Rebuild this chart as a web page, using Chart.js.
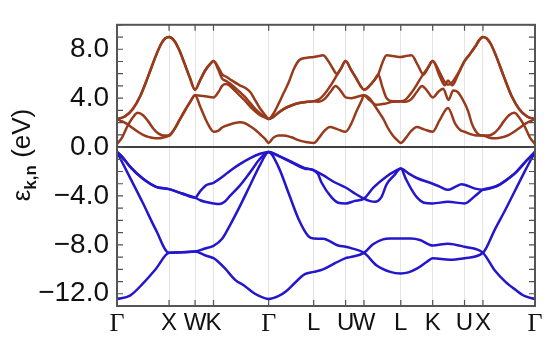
<!DOCTYPE html>
<html>
<head>
<meta charset="utf-8">
<script src="https://cdn.jsdelivr.net/npm/chart.js@4.4.0/dist/chart.umd.min.js"></script>
<style>
html, body { margin: 0; padding: 0; background: #fff; }
</style>
</head>
<body>
<canvas id="bandas" width="550" height="339"></canvas>
<script>
// high symmetry points along the path (units of 2pi/a)
const k_points = [0, 1, 1.5, 1.854, 2.914, 3.780, 4.393, 4.746, 5.453, 6.066, 6.678, 7.032, 8.032];
const k_labels = ['Γ', 'X', 'W', 'K', 'Γ', 'L', 'U', 'W', 'L', 'K', 'U', 'X', 'Γ'];
const e_ticks = [-12, -8, -4, 0, 4, 8];

// valence bands [k, E]
const vb1 = [[0,-12.42],[0.25,-12.15],[0.5,-11.15],[0.75,-9.95],[1.0,-8.65],[1.25,-8.6],[1.5,-8.55],[1.69,-8.85],[1.854,-9.09],[1.95,-9.4],[2.08,-9.95],[2.27,-10.86],[2.46,-11.38],[2.6,-11.85],[2.72,-12.16],[2.914,-12.42],[3.1,-12.2],[3.25,-11.8],[3.42,-11.1],[3.61,-10.4],[3.78,-10.21],[3.96,-10.0],[4.19,-9.5],[4.393,-9.09],[4.48,-9.0],[4.746,-8.65],[4.92,-7.95],[5.11,-7.55],[5.25,-7.48],[5.453,-7.48],[5.65,-7.48],[5.82,-7.6],[6.066,-8.05],[6.36,-7.9],[6.678,-8.16],[7.032,-8.65],[7.26,-10.1],[7.46,-11.0],[7.65,-11.65],[7.84,-12.2],[8.032,-12.42]];
const vb2 = [[0,-0.4],[0.25,-2.5],[0.5,-4.6],[0.75,-6.8],[1.0,-8.65],[1.25,-8.6],[1.5,-8.55],[1.69,-8.3],[1.854,-8.08],[2.02,-7.5],[2.17,-6.4],[2.36,-4.85],[2.56,-3.1],[2.75,-1.45],[2.914,-0.4],[3.1,-1.6],[3.3,-3.8],[3.49,-5.9],[3.68,-7.3],[3.78,-7.48],[3.96,-7.5],[4.25,-8.05],[4.393,-8.16],[4.48,-8.25],[4.746,-8.65],[4.99,-9.69],[5.25,-10.21],[5.453,-10.34],[5.6,-10.25],[5.76,-9.95],[5.95,-9.4],[6.066,-9.09],[6.4,-9.22],[6.678,-9.09],[7.032,-8.65],[7.26,-6.75],[7.46,-5.15],[7.65,-3.55],[7.84,-1.95],[8.032,-0.4]];
const vb3 = [[0,-0.4],[0.1,-0.8],[0.25,-1.6],[0.5,-2.6],[0.75,-3.25],[1.0,-3.44],[1.25,-3.8],[1.5,-4.14],[1.6,-3.6],[1.72,-3.1],[1.854,-2.92],[2.02,-2.45],[2.17,-1.95],[2.36,-1.4],[2.56,-0.9],[2.75,-0.55],[2.914,-0.4],[3.1,-0.7],[3.35,-1.2],[3.6,-1.7],[3.78,-1.88],[3.96,-2.3],[4.19,-2.9],[4.393,-3.31],[4.57,-3.8],[4.746,-4.22],[4.85,-4.4],[4.96,-4.48],[5.08,-4.1],[5.18,-3.05],[5.33,-2.3],[5.453,-1.75],[5.6,-2.15],[5.76,-2.53],[6.066,-3.0],[6.21,-3.25],[6.36,-3.5],[6.5,-3.25],[6.62,-3.05],[6.678,-3.08],[6.88,-3.4],[7.032,-3.49],[7.26,-3.25],[7.36,-3.05],[7.56,-2.45],[7.68,-2.0],[7.87,-1.1],[8.032,-0.4]];
const vb4 = [[0,-0.4],[0.1,-0.8],[0.25,-1.6],[0.5,-2.6],[0.75,-3.25],[1.0,-3.44],[1.25,-3.8],[1.5,-4.14],[1.6,-4.35],[1.69,-4.48],[1.854,-4.61],[1.97,-4.66],[2.06,-4.5],[2.17,-4.0],[2.36,-3.15],[2.56,-2.05],[2.75,-0.95],[2.914,-0.4],[3.1,-0.72],[3.35,-1.25],[3.6,-1.75],[3.78,-1.9],[3.86,-2.2],[3.93,-2.9],[4.12,-4.1],[4.25,-4.55],[4.393,-4.61],[4.57,-4.4],[4.746,-4.22],[4.93,-3.3],[5.18,-2.4],[5.35,-1.95],[5.453,-1.75],[5.55,-2.6],[5.65,-3.4],[5.76,-4.1],[5.9,-4.55],[6.066,-4.61],[6.36,-4.48],[6.678,-4.61],[6.88,-4.0],[7.032,-3.49],[7.26,-3.25],[7.36,-3.05],[7.56,-2.45],[7.68,-2.0],[7.87,-1.1],[8.032,-0.4]];

// conduction bands [k, E]
const cb1 = [[0,0.26],[0.1,0.8],[0.2,1.7],[0.3,2.4],[0.4,2.81],[0.5,2.6],[0.6,2.1],[0.7,1.5],[0.8,1.1],[0.9,0.95],[1.0,0.94],[1.1,1.45],[1.2,2.2],[1.3,2.95],[1.4,3.65],[1.5,4.24],[1.6,3.3],[1.7,2.3],[1.8,1.5],[1.854,1.25],[1.95,1.35],[2.02,1.6],[2.17,1.85],[2.36,2.03],[2.46,1.95],[2.56,1.7],[2.66,1.4],[2.75,1.05],[2.85,0.65],[2.914,0.34],[3.0,0.75],[3.1,0.95],[3.2,0.95],[3.35,0.8],[3.5,0.55],[3.65,0.4],[3.78,0.33],[3.88,0.75],[3.98,1.3],[4.09,1.64],[4.24,1.45],[4.393,1.25],[4.5,1.9],[4.6,2.9],[4.7,3.8],[4.746,4.24],[4.85,4.0],[4.95,3.4],[5.05,2.75],[5.12,2.29],[5.2,1.6],[5.3,0.95],[5.4,0.5],[5.453,0.33],[5.55,0.75],[5.65,1.3],[5.76,1.64],[5.9,1.45],[6.066,1.25],[6.2,2.2],[6.36,3.2],[6.5,1.9],[6.6,1.38],[6.678,1.25],[6.8,1.05],[6.9,0.95],[7.032,0.94],[7.132,0.95],[7.232,1.1],[7.332,1.5],[7.432,2.1],[7.532,2.6],[7.632,2.81],[7.732,2.4],[7.832,1.7],[7.932,0.8],[8.032,0.26]];
const cb2 = [[0,2.29],[0.1,2.1],[0.2,1.88],[0.3,1.55],[0.4,1.25],[0.5,1.0],[0.6,0.83],[0.7,0.74],[0.8,0.72],[0.9,0.8],[1.0,0.94],[1.1,1.45],[1.2,2.2],[1.3,2.95],[1.4,3.65],[1.5,4.24],[1.6,4.2],[1.7,4.15],[1.854,4.06],[1.95,4.5],[2.02,5.0],[2.1,5.15],[2.17,5.0],[2.36,4.2],[2.46,3.8],[2.56,3.3],[2.66,2.9],[2.75,2.6],[2.85,2.4],[2.914,2.29],[3.0,2.45],[3.1,2.8],[3.2,3.1],[3.35,3.4],[3.5,3.6],[3.65,3.7],[3.78,3.75],[3.88,3.7],[3.98,3.9],[4.1,4.5],[4.2,5.0],[4.3,4.6],[4.393,4.06],[4.5,4.0],[4.6,4.1],[4.746,4.24],[4.85,3.85],[4.99,3.46],[5.15,3.55],[5.3,3.7],[5.453,3.72],[5.55,3.7],[5.65,3.9],[5.76,4.5],[5.86,5.0],[5.96,4.6],[6.066,4.06],[6.18,4.55],[6.27,4.77],[6.37,3.85],[6.46,4.63],[6.55,4.5],[6.678,3.6],[6.75,2.9],[6.82,1.9],[6.9,1.25],[6.96,1.0],[7.032,0.94],[7.132,0.8],[7.232,0.72],[7.332,0.74],[7.432,0.83],[7.532,1.0],[7.632,1.25],[7.732,1.55],[7.832,1.88],[7.932,2.1],[8.032,2.29]];
const cb3 = [[0,2.29],[0.15,2.5],[0.3,3.1],[0.45,4.2],[0.6,5.8],[0.75,7.5],[0.85,8.45],[0.93,8.9],[1.0,9.0],[1.1,8.7],[1.2,7.9],[1.3,6.8],[1.4,5.67],[1.5,4.69],[1.6,5.5],[1.7,6.3],[1.8,6.85],[1.854,7.03],[1.95,6.3],[2.02,5.6],[2.1,5.4],[2.17,5.2],[2.36,4.5],[2.46,4.1],[2.56,3.6],[2.66,3.1],[2.75,2.75],[2.85,2.45],[2.914,2.29],[3.0,2.45],[3.1,2.8],[3.2,3.1],[3.35,3.4],[3.5,3.6],[3.65,3.7],[3.78,3.75],[3.88,3.9],[3.98,4.3],[4.1,5.0],[4.2,5.7],[4.3,6.4],[4.393,7.03],[4.5,6.3],[4.6,5.6],[4.68,5.0],[4.746,4.69],[4.85,5.0],[4.95,5.5],[5.02,5.93],[5.1,6.9],[5.18,7.5],[5.3,7.45],[5.453,7.37],[5.55,7.45],[5.66,7.5],[5.78,6.7],[5.89,5.94],[5.98,6.5],[6.066,7.03],[6.2,6.1],[6.3,5.3],[6.36,5.1],[6.44,5.3],[6.55,6.0],[6.678,7.03],[6.78,7.6],[6.88,8.2],[6.96,8.75],[7.032,9.0],[7.1,8.9],[7.18,8.45],[7.28,7.5],[7.43,5.8],[7.58,4.2],[7.73,3.1],[7.88,2.5],[8.032,2.29]];
const cb4 = [[0,2.29],[0.15,2.5],[0.3,3.1],[0.45,4.2],[0.6,5.8],[0.75,7.5],[0.85,8.45],[0.93,8.9],[1.0,9.0],[1.1,8.7],[1.2,7.9],[1.3,6.8],[1.4,5.67],[1.5,4.69],[1.6,5.5],[1.7,6.3],[1.8,6.85],[1.854,7.03],[1.95,6.5],[2.02,5.95],[2.1,5.75],[2.17,5.55],[2.36,5.05],[2.46,4.85],[2.56,4.5],[2.66,3.8],[2.75,3.15],[2.85,2.6],[2.914,2.29],[3.0,2.7],[3.1,3.5],[3.2,4.4],[3.3,5.3],[3.4,6.4],[3.5,7.1],[3.65,7.3],[3.78,7.37],[3.88,7.45],[3.96,7.5],[4.05,7.1],[4.15,6.4],[4.22,6.0],[4.3,6.4],[4.393,7.03],[4.5,6.3],[4.6,5.6],[4.68,5.0],[4.746,4.69],[4.85,5.0],[4.95,5.5],[5.02,5.93],[5.1,4.9],[5.18,4.0],[5.3,3.75],[5.453,3.75],[5.55,3.9],[5.65,4.4],[5.76,5.1],[5.86,5.8],[5.96,6.4],[6.066,7.03],[6.2,5.8],[6.3,5.05],[6.36,5.45],[6.44,5.05],[6.55,5.9],[6.678,7.03],[6.78,7.6],[6.88,8.2],[6.96,8.75],[7.032,9.0],[7.1,8.9],[7.18,8.45],[7.28,7.5],[7.43,5.8],[7.58,4.2],[7.73,3.1],[7.88,2.5],[8.032,2.29]];

const valence = [vb1, vb2, vb3, vb4];
const conduction = [cb1, cb2, cb3, cb4];

function band(points, color) {
    return {
        data: points.map(p => ({x: p[0], y: p[1]})),
        borderColor: color,
        borderWidth: 2.5,
        showLine: true,
        pointRadius: 0,
        cubicInterpolationMode: 'monotone'
    };
}

const datasets = [];
conduction.forEach(b => datasets.push(band(b, '#983a1c')));
valence.forEach(b => datasets.push(band(b, '#2416cc')));

// frame, inward ticks, minor ticks
const frame_plugin = {
    id: 'frame',
    afterDatasetsDraw(chart) {
        const {ctx, chartArea: a, scales: {x, y}} = chart;
        ctx.save();
        ctx.strokeStyle = '#505050';
        ctx.lineWidth = 1.2;
        ctx.beginPath();
        for (let e = Math.ceil(y.min); e <= y.max; e++) {
            const py = y.getPixelForValue(e);
            ctx.moveTo(a.left, py); ctx.lineTo(a.left + 6, py);
            ctx.moveTo(a.right, py); ctx.lineTo(a.right - 6, py);
        }
        k_points.forEach(k => {
            const px = x.getPixelForValue(k);
            ctx.moveTo(px, a.top); ctx.lineTo(px, a.top + 6);
            ctx.moveTo(px, a.bottom); ctx.lineTo(px, a.bottom - 6);
        });
        ctx.stroke();
        ctx.lineWidth = 2;
        ctx.strokeStyle = '#555';
        ctx.strokeRect(a.left, a.top, a.right - a.left, a.bottom - a.top);
        ctx.restore();
    }
};

// y axis title with subscript
const ytitle_plugin = {
    id: 'ytitle',
    afterDraw(chart) {
        const ctx = chart.ctx;
        const big = '26px "Liberation Sans"';
        const small = 'bold 17px "Liberation Sans"';
        ctx.save();
        ctx.translate(23, 155);
        ctx.rotate(-Math.PI / 2);
        ctx.fillStyle = '#111';
        ctx.textBaseline = 'middle';
        ctx.font = big;
        const w1 = ctx.measureText('ε').width;
        const w3 = ctx.measureText(' (eV)').width;
        ctx.font = small;
        const w2 = ctx.measureText('k,n').width;
        const x0 = -(w1 + w2 + w3) / 2;
        ctx.font = big;
        ctx.fillText('ε', x0, 0);
        ctx.font = small;
        ctx.fillText('k,n', x0 + w1, 8);
        ctx.font = big;
        ctx.fillText(' (eV)', x0 + w1 + w2, 0);
        ctx.restore();
    }
};

const ctx_bandas = document.getElementById("bandas").getContext("2d");
const graf_bandas = new Chart(ctx_bandas, {
    type: 'scatter',
    data: { datasets: datasets },
    options: {
        responsive: false,
        animation: false,
        devicePixelRatio: 1,
        layout: { padding: { top: 12, right: 15, left: 0, bottom: 0 } },
        plugins: { legend: { display: false }, tooltip: { enabled: false } },
        scales: {
            x: {
                type: 'linear',
                min: 0,
                max: k_points[k_points.length - 1],
                afterBuildTicks: s => { s.ticks = k_points.map(v => ({value: v})); },
                afterFit: s => { s.height = 33; },
                ticks: {
                    autoSkip: false,
                    maxRotation: 0,
                    padding: 3,
                    color: '#111',
                    callback: (v, i) => k_labels[i],
                    font: c => ({
                        family: k_labels[c.index] === 'Γ' ? '"Liberation Serif"' : '"Liberation Sans"',
                        size: k_labels[c.index] === 'Γ' ? 26 : 24
                    })
                },
                grid: { color: '#e4e4e4', lineWidth: 1, drawTicks: false },
                border: { display: false }
            },
            y: {
                min: -13,
                max: 10,
                afterBuildTicks: s => { s.ticks = e_ticks.map(v => ({value: v})); },
                afterFit: s => { s.width = 117; },
                ticks: {
                    padding: 8,
                    color: '#111',
                    font: { family: '"Liberation Sans"', size: 28 },
                    callback: v => v.toFixed(1).replace('-', '\u2212')
                },
                grid: {
                    drawTicks: false,
                    color: c => (c.tick && c.tick.value === 0) ? '#404040' : 'rgba(0,0,0,0)',
                    lineWidth: c => (c.tick && c.tick.value === 0) ? 2 : 0
                },
                border: { display: false }
            }
        }
    },
    plugins: [frame_plugin, ytitle_plugin]
});
</script>
</body>
</html>
